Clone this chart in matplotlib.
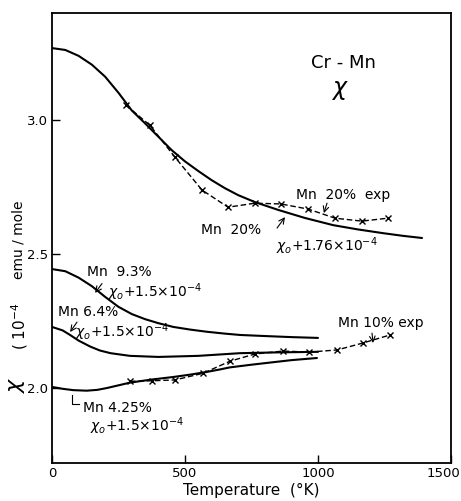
import matplotlib
matplotlib.use("Agg")
import matplotlib.pyplot as plt
from matplotlib.transforms import ScaledTranslation

plt.rcParams['font.family'] = ['DejaVu Sans']
plt.rcParams['mathtext.fontset'] = 'dejavusans'

# Calculated susceptibility curves (chi in 1e-4 emu/mole vs temperature in K)
t_mn20 = [0, 50, 100, 150, 200, 250, 300, 350, 400, 450, 500, 550, 600, 650, 700,
          763, 850, 950, 1057, 1150, 1245, 1320, 1391]
chi_mn20 = [3.269, 3.262, 3.240, 3.207, 3.162, 3.102, 3.036, 2.988, 2.938, 2.888,
            2.846, 2.810, 2.776, 2.746, 2.720, 2.694, 2.665, 2.635, 2.608, 2.592,
            2.578, 2.568, 2.560]

t_mn93 = [0, 50, 100, 150, 200, 250, 300, 350, 400, 456, 520, 582, 650, 707, 800, 900, 1000]
chi_mn93 = [2.444, 2.436, 2.412, 2.380, 2.340, 2.303, 2.276, 2.257, 2.242, 2.228,
            2.218, 2.210, 2.203, 2.198, 2.194, 2.190, 2.187]

t_mn64 = [0, 40, 68, 100, 143, 180, 220, 293, 400, 550, 707, 850, 1000]
chi_mn64 = [2.228, 2.215, 2.198, 2.177, 2.155, 2.140, 2.130, 2.120, 2.116, 2.120,
            2.130, 2.133, 2.135]

t_mn425 = [0, 40, 80, 130, 170, 207, 250, 293, 370, 455, 520, 582, 630, 669, 750,
           820, 900, 996]
chi_mn425 = [2.004, 1.997, 1.992, 1.990, 1.993, 2.000, 2.010, 2.020, 2.031, 2.041,
             2.050, 2.060, 2.069, 2.077, 2.087, 2.095, 2.104, 2.112]

# Measured values
t_mn20_exp = [278, 368, 462, 564, 662, 763, 861, 963, 1064, 1165, 1263]
chi_mn20_exp = [3.056, 2.981, 2.862, 2.739, 2.675, 2.69, 2.687, 2.668, 2.634, 2.623, 2.634]

t_mn10_exp = [293, 376, 462, 568, 669, 763, 869, 966, 1072, 1169, 1271]
chi_mn10_exp = [2.025, 2.027, 2.03, 2.055, 2.10, 2.127, 2.138, 2.134, 2.142, 2.168, 2.198]

x_ticks = [0, 500, 1000, 1500]
y_ticks = [2.0, 2.5, 3.0]

fig = plt.figure(figsize=(4.61, 5.01), dpi=100)
ax = fig.add_axes([52 / 461, 38 / 501, 399 / 461, 450 / 501])

solid = dict(color='black', lw=1.5, solid_capstyle='round', solid_joinstyle='round')
for t, c in [(t_mn20, chi_mn20), (t_mn93, chi_mn93), (t_mn64, chi_mn64), (t_mn425, chi_mn425)]:
    ax.plot(t, c, **solid)

exp = dict(color='black', lw=1.0, ls=(0, (4, 2)), marker='x', ms=5, mew=1.0)
ax.plot(t_mn20_exp, chi_mn20_exp, **exp)
ax.plot(t_mn10_exp, chi_mn10_exp, **exp)

ax.set_xlim(0, 1500)
ax.set_ylim(1.72, 3.40)
ax.set_xticks(x_ticks)
ax.set_xticklabels([str(v) for v in x_ticks])
ax.set_yticks(y_ticks)
ax.set_yticklabels([f"{v:.1f}" for v in y_ticks])
ax.tick_params(direction='in', length=6, width=1.0, labelsize=9.5, pad=3)
for s in ax.spines.values():
    s.set_linewidth(1.3)

# keep the last x label inside the canvas
last = ax.get_xticklabels()[-1]
last.set_transform(last.get_transform() + ScaledTranslation(-8 / 100, 0, fig.dpi_scale_trans))

ax.set_xlabel("Temperature  (°K)", fontsize=11, labelpad=2)

# vertical axis label, spread out as separate pieces
fig.text(17 / 461, 1 - 385 / 501, r"$\chi$", fontsize=16, rotation=90, ha='center', va='center')
fig.text(20 / 461, 1 - 326 / 501, r"( 10$^{-4}$", fontsize=11, rotation=90, ha='center', va='center')
fig.text(19 / 461, 1 - 240 / 501, "emu / mole", fontsize=10, rotation=90, ha='center', va='center')

# title inside the frame
ax.text(1094, 3.213, "Cr - Mn", fontsize=13, ha='center', va='center')
ax.text(1083, 3.112, r"$\chi$", fontsize=17, ha='center', va='center')

fs = 10
arrow = dict(arrowstyle='->', lw=0.8, color='black', shrinkA=0, shrinkB=0)
ax.text(1094, 2.72, "Mn  20%  exp", fontsize=fs, ha='center', va='center')
ax.annotate("", xy=(1022, 2.653), xytext=(1034, 2.69), arrowprops=arrow)
ax.text(673, 2.59, "Mn  20%", fontsize=fs, ha='center', va='center')
ax.text(1034, 2.53, r"$\chi_o$+1.76×10$^{-4}$", fontsize=fs, ha='center', va='center')
ax.annotate("", xy=(876, 2.638), xytext=(846, 2.597), arrowprops=arrow)

ax.text(252, 2.433, "Mn  9.3%", fontsize=fs, ha='center', va='center')
ax.annotate("", xy=(162, 2.355), xytext=(188, 2.39), arrowprops=arrow)
ax.text(211, 2.358, r"$\chi_o$+1.5×10$^{-4}$", fontsize=fs, ha='left', va='center')

ax.text(23, 2.284, "Mn 6.4%", fontsize=fs, ha='left', va='center')
ax.annotate("", xy=(68, 2.209), xytext=(94, 2.246), arrowprops=arrow)
ax.text(86, 2.209, r"$\chi_o$+1.5×10$^{-4}$", fontsize=fs, ha='left', va='center')

ax.plot([75, 75, 101], [1.974, 1.94, 1.94], color='black', lw=0.8)
ax.text(117, 1.925, "Mn 4.25%", fontsize=fs, ha='left', va='center')
ax.text(143, 1.858, r"$\chi_o$+1.5×10$^{-4}$", fontsize=fs, ha='left', va='center')

ax.text(1237, 2.243, "Mn 10% exp", fontsize=fs, ha='center', va='center')
ax.annotate("", xy=(1207, 2.168), xytext=(1203, 2.205), arrowprops=arrow)

fig.savefig("out.png", dpi=100)
